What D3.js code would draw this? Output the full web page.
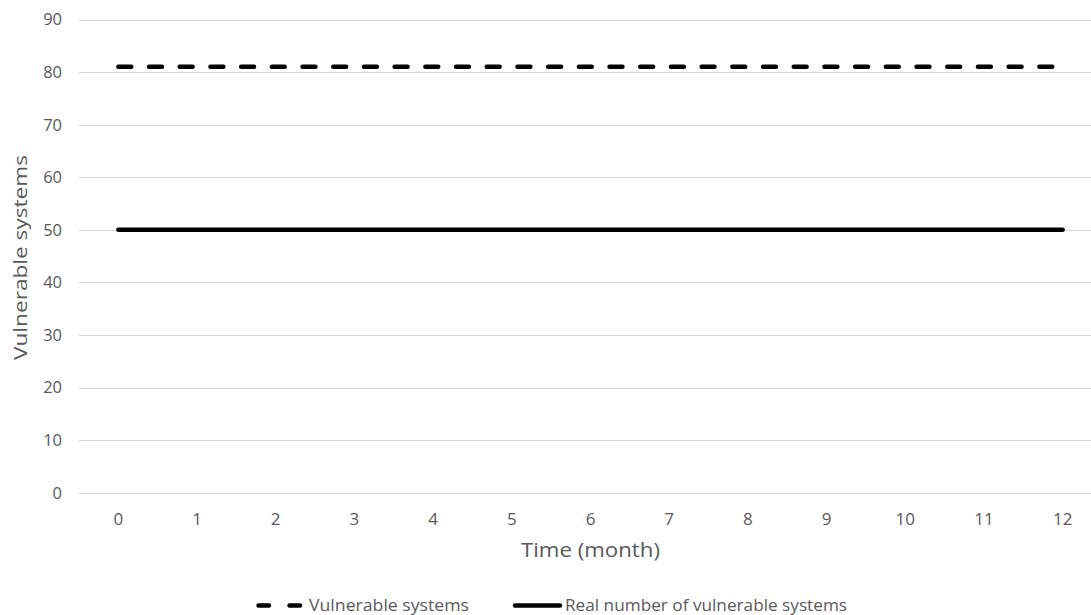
<!DOCTYPE html>
<html>
<head>
<meta charset="utf-8">
<script src="https://cdn.jsdelivr.net/npm/d3@7"></script>
<style>
body { margin: 0; background: #fff; overflow: hidden; }
text { font-family: "Open Sans", "DejaVu Sans", sans-serif; fill: #595959; }
</style>
</head>
<body>
<div id="chart"></div>
<script>
// data
var months = [0, 1, 2, 3, 4, 5, 6, 7, 8, 9, 10, 11, 12]
var vulnerable = [81, 81, 81, 81, 81, 81, 81, 81, 81, 81, 81, 81, 81]
var realVulnerable = [50, 50, 50, 50, 50, 50, 50, 50, 50, 50, 50, 50, 50]
var yTicks = [0, 10, 20, 30, 40, 50, 60, 70, 80, 90]
var seriesNames = ["Vulnerable systems", "Real number of vulnerable systems"]

var width = 1091
var height = 615
var plotLeft = 79, plotRight = 1102, plotTop = 19.5, plotBottom = 492.7

var svg = d3.select("#chart").append("svg")
    .attr("width", width)
    .attr("height", height)

var x = d3.scalePoint()
    .domain(months)
    .range([plotLeft, plotRight])
    .padding(0.5)

var y = d3.scaleLinear()
    .domain([0, 90])
    .range([plotBottom, plotTop])

// gridlines
svg.append("g")
  .selectAll("line")
  .data(yTicks)
  .enter().append("line")
    .attr("x1", plotLeft)
    .attr("x2", plotRight)
    .attr("y1", d => Math.round(y(d)) + 0.5)
    .attr("y2", d => Math.round(y(d)) + 0.5)
    .attr("stroke", "#d9d9d9")
    .attr("stroke-width", 1)

// y tick labels
svg.append("g")
  .selectAll("text")
  .data(yTicks)
  .enter().append("text")
    .attr("x", 62)
    .attr("y", d => y(d))
    .attr("dy", "0.36em")
    .attr("text-anchor", "end")
    .style("font-size", "16.5px")
    .text(d => d)

// x tick labels
svg.append("g")
  .selectAll("text")
  .data(months)
  .enter().append("text")
    .attr("x", d => x(d))
    .attr("y", 525)
    .attr("text-anchor", "middle")
    .style("font-size", "17px")
    .text(d => d)

// axis titles (the picture's lettering is stretched, so fix the length)
svg.append("text")
    .attr("x", 521)
    .attr("y", 557)
    .attr("textLength", 139)
    .attr("lengthAdjust", "spacingAndGlyphs")
    .style("font-size", "19.5px")
    .text("Time (month)")

svg.append("text")
    .attr("transform", "translate(27,360) rotate(-90)")
    .attr("textLength", 205)
    .attr("lengthAdjust", "spacingAndGlyphs")
    .style("font-size", "17.5px")
    .text("Vulnerable systems")

var line = d3.line()
    .x((d, i) => x(months[i]))
    .y(d => y(d))

svg.append("path")
    .datum(vulnerable)
    .attr("d", line)
    .attr("fill", "none")
    .attr("stroke", "#000")
    .attr("stroke-width", 4.5)
    .attr("stroke-linecap", "round")
    .attr("stroke-dasharray", "12.9,17.8")

svg.append("path")
    .datum(realVulnerable)
    .attr("d", line)
    .attr("fill", "none")
    .attr("stroke", "#000")
    .attr("stroke-width", 4.5)
    .attr("stroke-linecap", "round")

//////////// legend //////////
var legY = 605.5
var leg = svg.append("g")

leg.append("line")
    .attr("x1", 258.5).attr("x2", 300)
    .attr("y1", legY).attr("y2", legY)
    .attr("stroke", "#000")
    .attr("stroke-width", 4.5)
    .attr("stroke-linecap", "round")
    .attr("stroke-dasharray", "10.5,20.5")

leg.append("text")
    .attr("x", 309)
    .attr("y", legY)
    .attr("dy", "0.36em")
    .attr("textLength", 160)
    .attr("lengthAdjust", "spacingAndGlyphs")
    .style("font-size", "16.4px")
    .text(seriesNames[0])

leg.append("line")
    .attr("x1", 515).attr("x2", 560)
    .attr("y1", legY).attr("y2", legY)
    .attr("stroke", "#000")
    .attr("stroke-width", 4.5)
    .attr("stroke-linecap", "round")

leg.append("text")
    .attr("x", 565)
    .attr("y", legY)
    .attr("dy", "0.36em")
    .attr("textLength", 282)
    .attr("lengthAdjust", "spacingAndGlyphs")
    .style("font-size", "16.4px")
    .text(seriesNames[1])
</script>
</body>
</html>
